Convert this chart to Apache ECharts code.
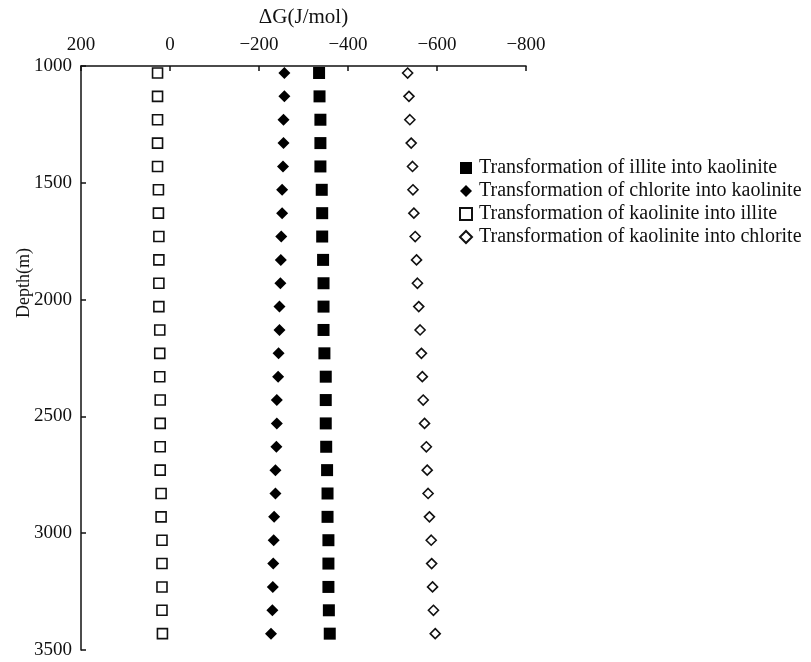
<!DOCTYPE html>
<html>
<head>
<meta charset="utf-8">
<script src="https://cdn.jsdelivr.net/npm/echarts@6/dist/echarts.min.js"></script>
<style>
html,body{margin:0;padding:0;background:#fff;}
#chart{width:811px;height:662px;}
</style>
</head>
<body>
<div id="chart"></div>
<script>
const depths = [1030,1130,1230,1330,1430,1530,1630,1730,1830,1930,2030,2130,2230,2330,2430,2530,2630,2730,2830,2930,3030,3130,3230,3330,3430];
const illiteToKaolinite = [-335,-336,-338,-338,-338,-341,-342,-342,-344,-345,-345,-345,-347,-350,-350,-350,-351,-353,-354,-354,-356,-356,-356,-357,-359];
const chloriteToKaolinite = [-257,-257,-255,-255,-254,-252,-252,-250,-249,-248,-246,-246,-244,-243,-240,-240,-239,-237,-237,-234,-233,-232,-231,-230,-227];
const kaoliniteToIllite = [28,28,28,28,28,26,26,25,25,25,25,23,23,23,22,22,22,22,20,20,18,18,18,18,17];
const kaoliniteToChlorite = [-534,-537,-539,-542,-545,-546,-548,-551,-554,-556,-559,-562,-565,-567,-569,-572,-576,-578,-580,-583,-587,-588,-590,-592,-596];
const seriesNames = ['Transformation of illite into kaolinite','Transformation of chlorite into kaolinite','Transformation of kaolinite into illite','Transformation of kaolinite into chlorite'];
const xTicks = {min:-800,max:200,interval:200};
const yTicks = {min:1000,max:3500,interval:500};

const font = 'Liberation Serif, Times New Roman, serif';
function pairs(vals){ return vals.map((v,i)=>[v,depths[i]]); }

const chart = echarts.init(document.getElementById('chart'));
chart.setOption({
  animation:false,
  backgroundColor:'#fff',
  grid:{left:81,top:66,right:285,bottom:12,containLabel:false,outerBoundsMode:'none'},
  legend:{
    orient:'vertical',left:454,top:153,itemWidth:12,itemHeight:12,itemGap:3,
    textStyle:{fontFamily:font,fontSize:20,color:'#111',padding:[0,0,0,2]},
    data:seriesNames.map(n=>({name:n}))
  },
  graphic:[{
    type:'text',x:24,y:283,rotation:Math.PI/2,
    style:{text:'Depth(m)',font:'18px '+font,fill:'#111',align:'center',verticalAlign:'middle',textAlign:'center',textVerticalAlign:'middle'}
  }],
  xAxis:{
    type:'value',position:'top',inverse:true,
    min:xTicks.min,max:xTicks.max,interval:xTicks.interval,
    name:'ΔG(J/mol)',nameLocation:'middle',nameGap:38,
    nameTextStyle:{fontFamily:font,fontSize:21,color:'#111'},
    axisLine:{show:true,onZero:false,lineStyle:{color:'#111',width:1.5}},
    axisTick:{show:true,inside:true,length:5,lineStyle:{color:'#111',width:1.5}},
    axisLabel:{fontFamily:font,fontSize:19,color:'#111',margin:11,
      formatter:v=> v<0 ? '\u2212'+Math.abs(v) : String(v)},
    splitLine:{show:false}
  },
  yAxis:{
    type:'value',inverse:true,
    min:yTicks.min,max:yTicks.max,interval:yTicks.interval,
    axisLine:{show:true,onZero:false,lineStyle:{color:'#111',width:1.5}},
    axisTick:{show:true,inside:true,length:5,lineStyle:{color:'#111',width:1.5}},
    axisLabel:{fontFamily:font,fontSize:19,color:'#111',margin:9,formatter:v=>String(v)},
    splitLine:{show:false}
  },
  series:[
    {name:seriesNames[0],type:'scatter',symbol:'rect',symbolSize:12,
     itemStyle:{color:'#000',opacity:1},data:pairs(illiteToKaolinite)},
    {name:seriesNames[1],type:'scatter',symbol:'diamond',symbolSize:[12,12],
     itemStyle:{color:'#000',opacity:1},data:pairs(chloriteToKaolinite)},
    {name:seriesNames[2],type:'scatter',symbol:'rect',symbolSize:10,
     itemStyle:{color:'#fff',borderColor:'#111',borderWidth:1.6,opacity:1},data:pairs(kaoliniteToIllite)},
    {name:seriesNames[3],type:'scatter',symbol:'diamond',symbolSize:[10,10],
     itemStyle:{color:'#fff',borderColor:'#111',borderWidth:1.6,opacity:1},data:pairs(kaoliniteToChlorite)}
  ]
});
</script>
</body>
</html>
